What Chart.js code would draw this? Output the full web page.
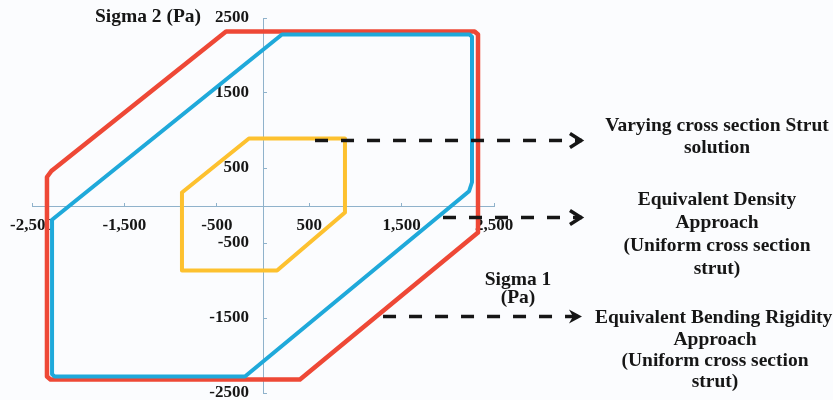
<!DOCTYPE html>
<html><head><meta charset="utf-8">
<script src="https://cdn.jsdelivr.net/npm/chart.js@4.4.1/dist/chart.umd.min.js"></script>
<style>html,body{margin:0;padding:0;background:#fbfcfe;}canvas{display:block;}</style>
</head><body>
<canvas id="c" width="833" height="400"></canvas>
<script>
// ---- data (Pa) ----
const xTicks = [-2500, -1500, -500, 500, 1500, 2500];
const yTicks = [-2500, -1500, -500, 500, 1500, 2500];

const seriesNames = [
  "Varying cross section Strut solution",
  "Equivalent Density Approach (Uniform cross section strut)",
  "Equivalent Bending Rigidity Approach (Uniform cross section strut)"
];

// Varying cross section strut (yellow)
const varyingX = [-877, -152, 887, 887, 152, -877, -877];
const varyingY = [173, 893, 893, -93, -867, -867, 173];

// Equivalent density approach (blue)
const densityX = [-2283, 205, 2235, 2262, 2262, 2230, -195, -2255, -2283, -2283];
const densityY = [-190, 2280, 2280, 2250, 310, 190, -2280, -2280, -2250, -190];

// Equivalent bending rigidity approach (red)
const bendingX = [-2290, -400, 2290, 2327, 2327, 400, -2300, -2338, -2338, -2290];
const bendingY = [460, 2320, 2320, 2280, -360, -2320, -2320, -2280, 380, 460];

// leader arrows (start, tip), same units as the axes
const arrowVaryingX = [563, 3452];
const arrowVaryingY = [867, 867];
const arrowDensityX = [1948, 3452];
const arrowDensityY = [-160, -160];
const arrowBendingX = [1299, 3452];
const arrowBendingY = [-1480, -1480];

const yAxisTitle = "Sigma 2 (Pa)";
const xAxisTitle = ["Sigma 1", "(Pa)"];
const noteVarying = ["Varying cross section Strut", "solution"];
const noteDensity = ["Equivalent Density", "Approach", "(Uniform cross section", "strut)"];
const noteBending = ["Equivalent Bending Rigidity", "Approach", "(Uniform cross section", "strut)"];

// ---- styles ----
const RED = '#ee4836', BLUE = '#1fa9da', YELLOW = '#fdc12f', AXIS = '#8fb2cb', INK = '#161616';
const SERIF = '"Liberation Serif", "Times New Roman", serif';

const pts = (xs, ys) => xs.map((x, i) => ({x: x, y: ys[i]}));

const lineDs = (label, xs, ys, color, width, order) => ({
  label, data: pts(xs, ys), showLine: true, borderColor: color, backgroundColor: color,
  borderWidth: width, pointRadius: 0, fill: false, tension: 0,
  borderJoinStyle: 'round', borderCapStyle: 'round', order, clip: false
});
const arrowDs = (xs, ys) => ({
  label: 'arrow', data: pts(xs, ys), showLine: true, borderColor: INK, borderWidth: 3.5,
  borderDash: [13, 13], pointRadius: 0, fill: false, order: 0, clip: false
});

const annot = {
  id: 'annot',
  beforeDraw(chart) {
    const ctx = chart.ctx;
    ctx.save(); ctx.fillStyle = '#fbfcfe'; ctx.fillRect(0, 0, chart.width, chart.height); ctx.restore();
  },
  afterDraw(chart) {
    const ctx = chart.ctx, sx = chart.scales.x, sy = chart.scales.y;
    ctx.save();
    // arrow heads
    const heads = [[arrowVaryingX, arrowVaryingY, false], [arrowDensityX, arrowDensityY, false], [arrowBendingX, arrowBendingY, true]];
    heads.forEach(([xs, ys, solid]) => {
      const tx = sx.getPixelForValue(xs[xs.length - 1]);
      const ty = sy.getPixelForValue(ys[ys.length - 1]);
      ctx.strokeStyle = INK; ctx.fillStyle = INK;
      if (solid) {
        ctx.beginPath();
        ctx.moveTo(tx, ty); ctx.lineTo(tx - 13, ty - 7); ctx.lineTo(tx - 9, ty); ctx.lineTo(tx - 13, ty + 7);
        ctx.closePath(); ctx.fill();
      } else {
        ctx.lineWidth = 3.5; ctx.lineJoin = 'miter'; ctx.lineCap = 'butt';
        ctx.beginPath();
        ctx.moveTo(tx - 12, ty - 7); ctx.lineTo(tx - 1, ty); ctx.lineTo(tx - 12, ty + 7);
        ctx.stroke();
      }
    });
    // texts
    ctx.fillStyle = INK;
    ctx.textBaseline = 'middle';
    ctx.font = 'bold 19.5px ' + SERIF;
    ctx.textAlign = 'center';
    ctx.fillText(yAxisTitle, 148, 17);
    xAxisTitle.forEach((t, i) => ctx.fillText(t, 518, 280 + i * 18));
    noteVarying.forEach((t, i) => ctx.fillText(t, 717, 126 + i * 22));
    noteDensity.forEach((t, i) => ctx.fillText(t, 717, 200 + i * 23));
    ctx.textAlign = 'left';
    ctx.fillText(noteBending[0], 595, 318);
    ctx.textAlign = 'center';
    noteBending.slice(1).forEach((t, i) => ctx.fillText(t, 715, 340 + i * 21));
    ctx.restore();
  }
};

const tickFont = {family: SERIF, weight: 'bold', size: 17};

new Chart(document.getElementById('c'), {
  type: 'scatter',
  data: {
    datasets: [
      arrowDs(arrowVaryingX, arrowVaryingY),
      arrowDs(arrowDensityX, arrowDensityY),
      arrowDs(arrowBendingX, arrowBendingY),
      lineDs(seriesNames[0], varyingX, varyingY, YELLOW, 4, 1),
      lineDs(seriesNames[1], densityX, densityY, BLUE, 4, 2),
      lineDs(seriesNames[2], bendingX, bendingY, RED, 4.5, 3)
    ]
  },
  options: {
    responsive: false,
    animation: false,
    devicePixelRatio: 1,
    layout: {padding: {left: 32, right: 339, top: 18, bottom: 7}},
    plugins: {legend: {display: false}, tooltip: {enabled: false}},
    scales: {
      x: {
        type: 'linear', position: 'center', min: -2500, max: 2500,
        afterBuildTicks: s => { s.ticks = xTicks.map(v => ({value: v})); },
        afterFit: s => { s.paddingLeft = 0; s.paddingRight = 0; },
        ticks: {font: tickFont, color: INK, padding: 14, maxRotation: 0, autoSkip: false,
                callback: v => Number(v).toLocaleString('en-US')},
        grid: {display: true, drawOnChartArea: false, drawTicks: true, tickLength: -4, color: AXIS},
        border: {display: true, color: AXIS, width: 1}
      },
      y: {
        type: 'linear', position: 'center', min: -2500, max: 2500,
        afterBuildTicks: s => { s.ticks = yTicks.map(v => ({value: v})); },
        afterFit: s => { s.paddingTop = 0; s.paddingBottom = 0; },
        ticks: {font: tickFont, color: INK, padding: 18, autoSkip: false,
                callback: v => String(v)},
        grid: {display: true, drawOnChartArea: false, drawTicks: true, tickLength: -4, color: AXIS},
        border: {display: true, color: AXIS, width: 1}
      }
    }
  },
  plugins: [annot]
});
</script>
</body></html>
